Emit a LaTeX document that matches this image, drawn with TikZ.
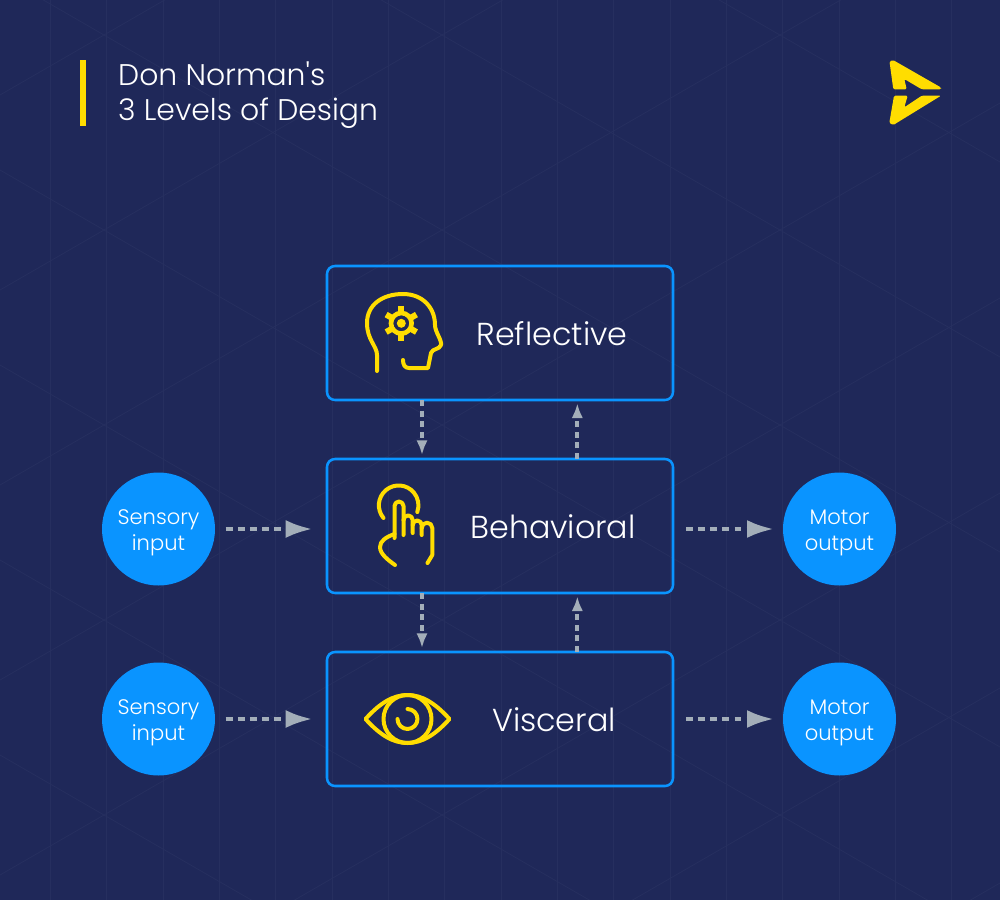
\documentclass[tikz,border=0pt]{standalone}
\usepackage{fontspec}
\setmainfont{Poppins Light}
\usetikzlibrary{arrows.meta,positioning}

\definecolor{navy}{HTML}{1F2859}
\definecolor{navyline}{HTML}{262F5F}
\definecolor{skyblue}{HTML}{0A94FF}
\definecolor{signal}{HTML}{FFDD00}
\definecolor{flowgray}{HTML}{A3AEB9}

\begin{document}
\begin{tikzpicture}[
    x=0.75pt,y=-0.75pt,
    levelbox/.style={
        rectangle,
        draw=skyblue,
        line width=1.9pt,
        rounded corners=6pt,
        outer sep=0pt,
        minimum width=259.5pt,
        minimum height=100.5pt},
    endcircle/.style={
        circle,
        fill=skyblue,
        text=white,
        inner sep=0pt,
        outer sep=0pt,
        minimum size=84.75pt,
        align=center,
        text height=33pt,
        text depth=1.5pt,
        font=\fontsize{15.8}{19.5}\selectfont},
    levellabel/.style={text=white,font=\fontsize{23.8}{28}\selectfont,anchor=center},
    sideflow/.style={
        draw=flowgray,
        line width=3pt,
        dash pattern=on 5.2pt off 3.9pt,
        -{Latex[length=20pt,width=13.5pt,sharp]}},
    levelflow/.style={
        draw=flowgray,
        line width=3pt,
        dash pattern=on 4.6pt off 3.4pt,
        -{Latex[length=11pt,width=8.5pt,sharp]}},
    iconline/.style={draw=signal,line width=3pt,line cap=round,line join=round},
    node distance=44.25pt and 84pt
    ]
    \useasboundingbox (0,0) rectangle (1000,900);
    \clip (0,0) rectangle (1000,900);
    % background
    \fill[navy] (0,0) rectangle (1000,900);
    \foreach \x in {50,106,163,219,275,332,388,444,501,557,613,670,726,782,839,895,951}
        \draw[navyline,line width=.6pt] (\x,0) -- (\x,900);
    \foreach \y in {-1000,-805,...,1000}{
        \draw[navyline,line width=.6pt] (0,\y) -- (1000,\y+577);
        \draw[navyline,line width=.6pt] (0,\y+900) -- (1000,\y+323);
    }

    % title
    \fill[signal] (79.5,59.5) rectangle (86,126);
    \node[text=white,anchor=west,align=left,font=\fontsize{22.4}{26.2}\selectfont] (title) at (113.5,95)
        {Don Norman\textquotesingle s\\3 Levels of Design};

    % logo
    \fill[signal,rounded corners=1pt] (889.5,61.5) -- (893,60) -- (941,87.5) -- (941,89.3) -- (921.7,89.3)
        -- (904.3,79) -- (906.7,89.3) -- (893.3,89.3) -- cycle;
    \fill[signal,rounded corners=1pt] (894,95.7) -- (907.7,95.7) -- (904.3,107.3) -- (921.7,95.7) -- (941,95.7)
        -- (893.3,125) -- (889.3,123) -- cycle;

    % levels
    \node[levelbox] (refl) at (500,333) {};
    \node[levelbox,below=of refl] (beh) {};
    \node[levelbox,below=of beh] (visc) {};
    \node[levellabel] (refltxt) at (552,334) {Reflective};
    \node[levellabel] (behtxt) at (553,527) {Behavioral};
    \node[levellabel] (visctxt) at (554,720) {Visceral};

    % inputs and outputs
    \node[endcircle,left=of beh,yshift=-2.25pt] (in1) {Sensory\\input};
    \node[endcircle,left=of visc] (in2) {Sensory\\input};
    \node[endcircle,right=82.5pt of beh,yshift=-2.25pt] (out1) {Motor\\output};
    \node[endcircle,right=82.5pt of visc] (out2) {Motor\\output};

    \foreach \i/\j in {in1/beh,in2/visc}
        \draw[sideflow,shorten <=8pt,shorten >=11pt] (\i) -- (\i -| \j.west);
    \foreach \i/\j in {beh/out1,visc/out2}
        \draw[sideflow,shorten <=9.75pt,shorten >=7pt] (\j -| \i.east) -- (\j);
    \foreach \i/\j in {refl/beh,beh/visc}{
        \draw[levelflow,shorten >=3pt] ([xshift=-58.5pt]\i.south) -- ([xshift=-58.5pt]\j.north);
        \draw[levelflow,shorten >=2.5pt] ([xshift=58pt]\j.north) -- ([xshift=58pt]\i.south);
    }

    % head with gear
    \draw[iconline] (377,371) -- (377,355) .. controls (377,346) and (367,340) .. (367,323)
        .. controls (367,305) and (382,294) .. (403,294)
        .. controls (423,294) and (435,308) .. (435,325)
        .. controls (435,332) and (442,340) .. (441,345)
        .. controls (439,350) and (433,348) .. (431,353)
        -- (428,368) -- (409,368) .. controls (405,368) and (403,365) .. (403,360);
    \draw[iconline,line width=3.5pt,line cap=butt] (401.3,323.3) circle (10.3);
    \fill[signal] (401.3,323.3) circle (4.5);
    \foreach \a in {30,90,...,330}
        \draw[signal,line width=4.5pt] (401.3,323.3) ++(\a:10) -- ++(\a:7.5);

    % pointing hand
    \draw[iconline] (383.5,518) arc[start angle=140,end angle=380,radius=19.8];
    \draw[iconline] (394.5,538) -- (394.5,506) arc[start angle=180,end angle=360,radius=4.5] -- (403.5,535);
    \draw[iconline] (403.5,520) arc[start angle=180,end angle=360,radius=4.6] -- (412.7,533);
    \draw[iconline] (412.7,525) arc[start angle=180,end angle=360,radius=4.5] -- (421.7,535);
    \draw[iconline] (421.7,528) arc[start angle=180,end angle=360,radius=5.3] -- (432.3,555) -- (427.5,563);
    \draw[iconline] (394.5,534) .. controls (386,537) and (380,541) .. (380,547)
        .. controls (380,554) and (388,560) .. (395,565);

    % eye
    \draw[iconline] (365.5,719) .. controls (380,703) and (393,695) .. (407.5,695)
        .. controls (422,695) and (435,703) .. (449.5,719)
        .. controls (435,735) and (422,743) .. (407.5,743)
        .. controls (393,743) and (380,735) .. cycle;
    \draw[iconline] (407.5,719) circle (24);
    \draw[iconline] (407.5,709) arc[start angle=-90,end angle=180,radius=10];
\end{tikzpicture}
\end{document}
